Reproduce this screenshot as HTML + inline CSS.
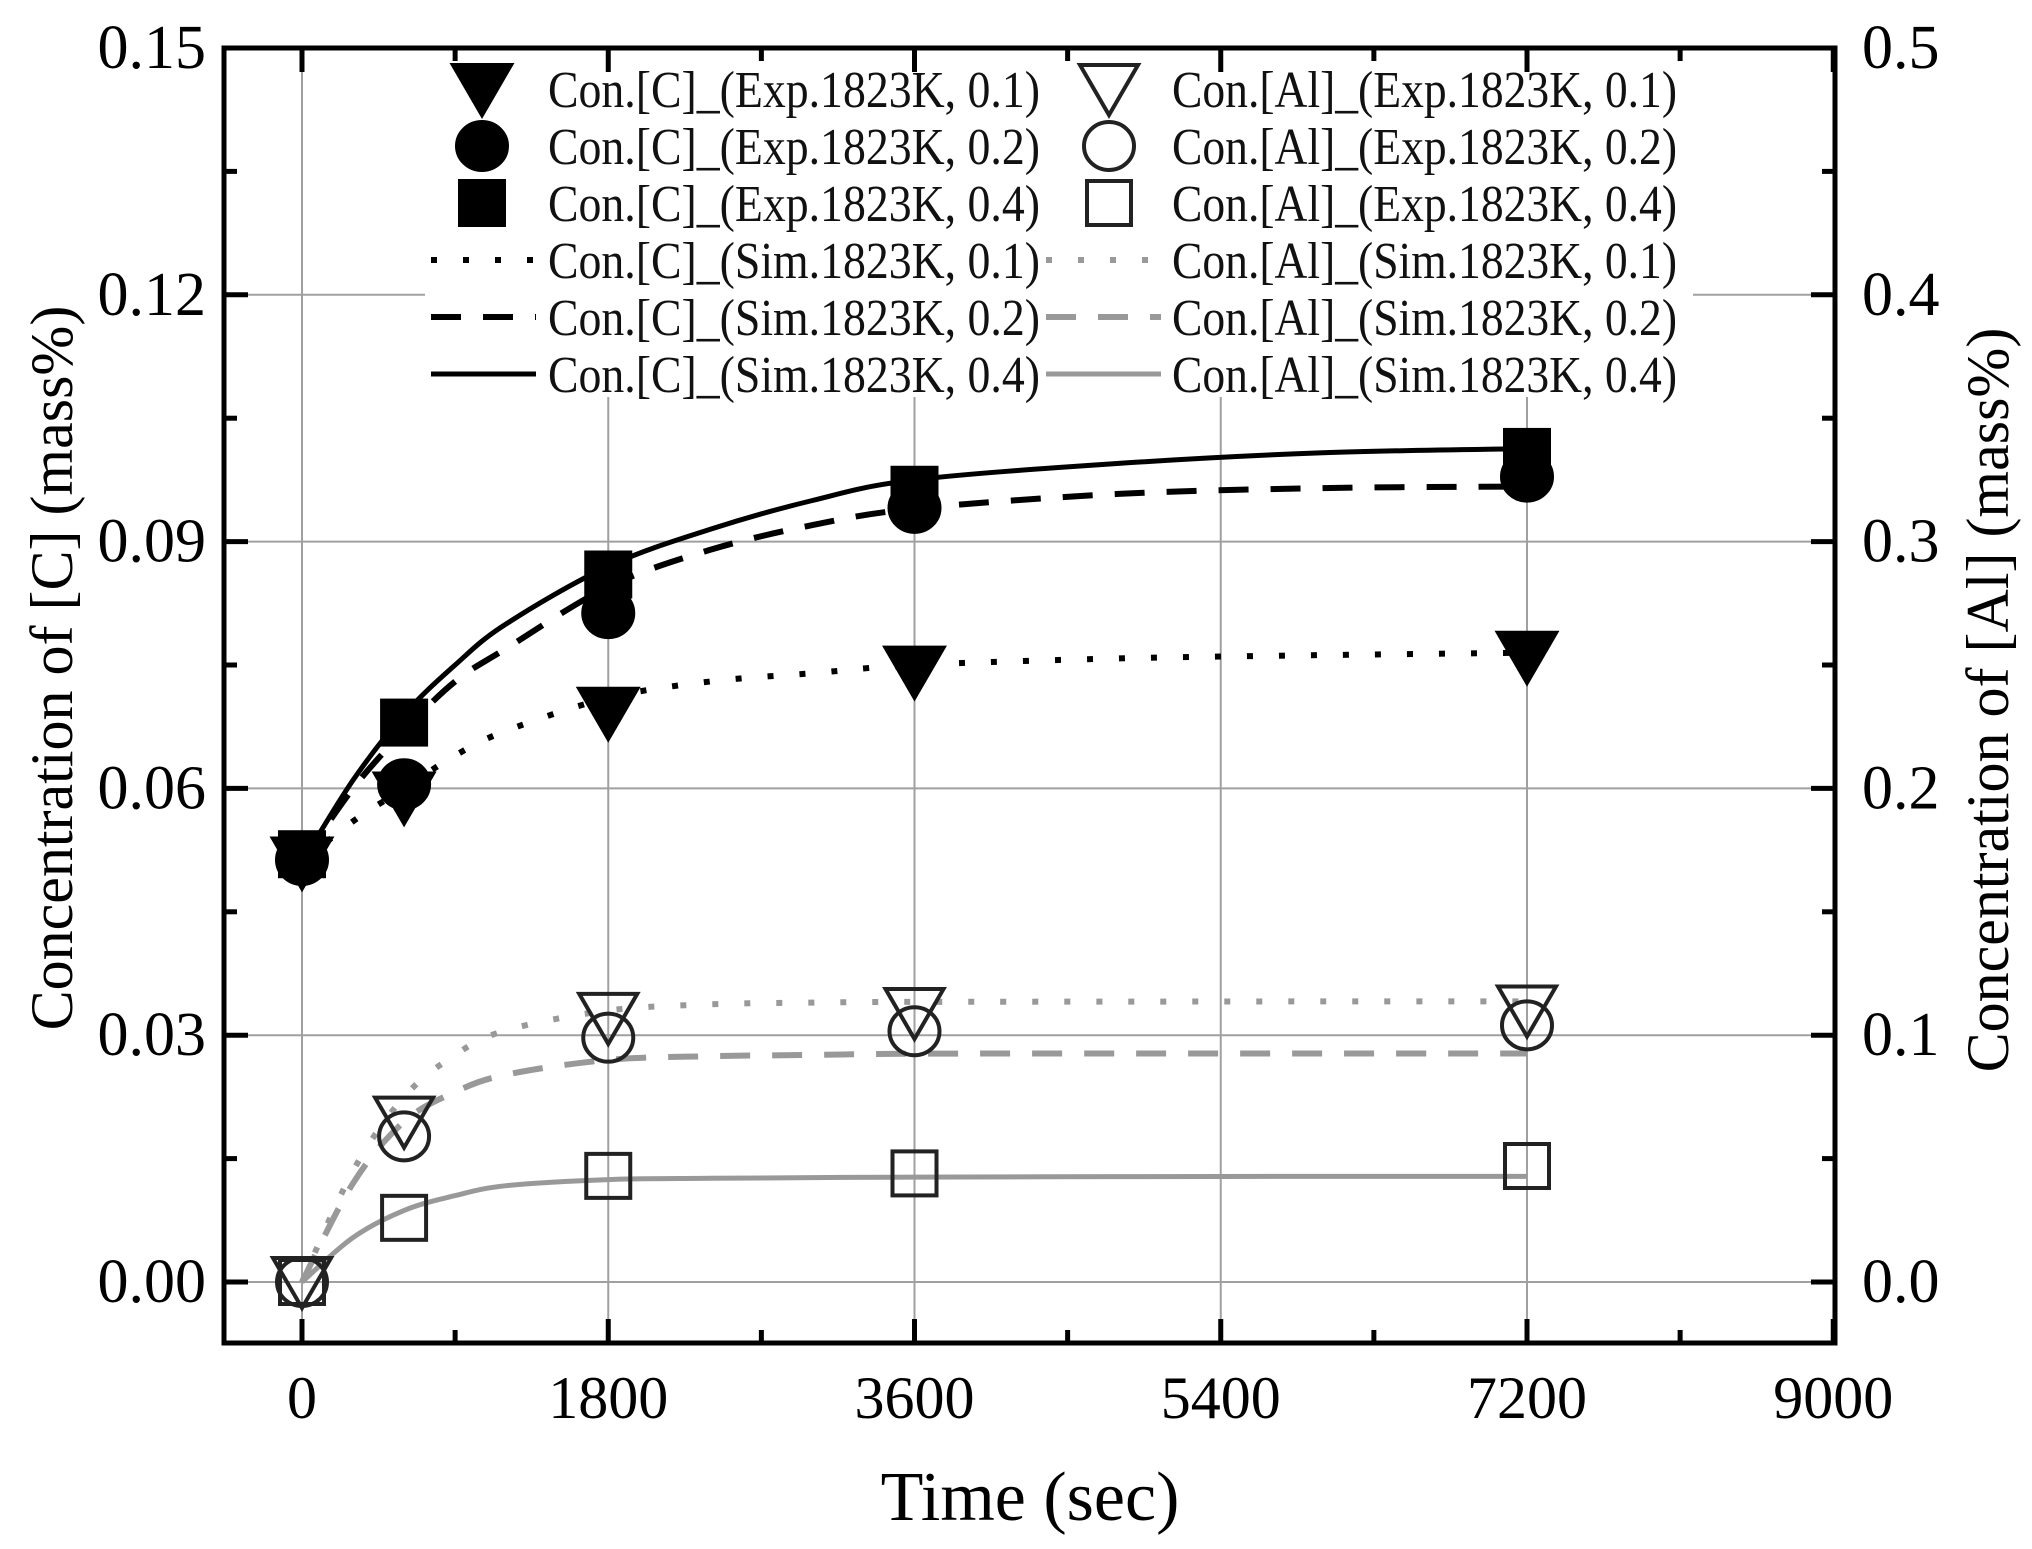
<!DOCTYPE html>
<html><head><meta charset="utf-8"><style>
html,body{margin:0;padding:0;background:#fff;}
svg{display:block;font-family:"Liberation Serif",serif;}
</style></head><body>
<svg id="chart" width="2032" height="1549" viewBox="0 0 2032 1549" xmlns="http://www.w3.org/2000/svg">
<g id="grid"></g>
<g id="legendbg"></g>
<g id="series"></g>
<g id="axes"></g>
<g id="legend"></g>
<text x="1030" y="1520" font-size="70" text-anchor="middle">Time (sec)</text>
<text transform="translate(72,668) rotate(-90)" font-size="60" text-anchor="middle">Concentration of [C] (mass%)</text>
<text transform="translate(2008,700) rotate(-90)" font-size="60" text-anchor="middle">Concentration of [Al] (mass%)</text>
</svg>
<script>
const xTicks=[0,1800,3600,5400,7200,9000];
const yLeftTicks=[0,0.03,0.06,0.09,0.12,0.15];
const yLeftLabels=["0.00","0.03","0.06","0.09","0.12","0.15"];
const yRightLabels=["0.0","0.1","0.2","0.3","0.4","0.5"];
const expTimes=[0,600,1800,3600,7200];
const cExp01=[0.051,0.0589,0.0692,0.0742,0.0760];
const cExp02=[0.0513,0.0605,0.0813,0.0941,0.0979];
const cExp04=[0.052,0.068,0.086,0.0963,0.1009];
const alExp01=[0.0,0.065,0.107,0.109,0.110];
const alExp02=[0.0,0.059,0.099,0.1016,0.104];
const alExp04=[0.0,0.026,0.043,0.044,0.047];
const simTimes=[0,300,600,900,1200,1800,2400,3000,3600,4800,6000,7200];
const cSim01=[0.051,0.056,0.060,0.064,0.067,0.071,0.073,0.074,0.075,0.0758,0.0762,0.0765];
const cSim02=[0.051,0.060,0.067,0.073,0.077,0.0845,0.089,0.092,0.094,0.0958,0.0965,0.0967];
const cSim04=[0.051,0.061,0.069,0.075,0.080,0.087,0.0915,0.095,0.0975,0.0995,0.1008,0.1013];
const alSim01=[0.0,0.045,0.075,0.092,0.102,0.110,0.1125,0.1132,0.1135,0.1136,0.1137,0.1137];
const alSim02=[0.0,0.040,0.065,0.077,0.084,0.090,0.0915,0.092,0.0925,0.0926,0.0926,0.0926];
const alSim04=[0.0,0.018,0.029,0.035,0.039,0.0415,0.042,0.0423,0.0425,0.0427,0.0428,0.0428];

const NS="http://www.w3.org/2000/svg";
const L=224,R=1835,T=48,B=1343;
function xs(t){return 302+t*(1527-302)/7200;}
function yl(v){return 1282-v*(1282-48)/0.15;}
function yr(v){return yl(v*0.3);}
function mk(tag,attrs,parent){const e=document.createElementNS(NS,tag);for(const k in attrs)e.setAttribute(k,attrs[k]);parent.appendChild(e);return e;}
const grid=document.getElementById('grid'),axes=document.getElementById('axes'),series=document.getElementById('series'),legend=document.getElementById('legend'),lbg=document.getElementById('legendbg');

xTicks.slice(0,5).forEach(t=>{const g=mk('line',{x1:xs(t),x2:xs(t),y1:T,y2:B,stroke:'#a0a0a0','stroke-width':2},grid);

});
yLeftTicks.slice(0,5).forEach(v=>{const g=mk('line',{x1:L,x2:R,y1:yl(v),y2:yl(v),stroke:'#a0a0a0','stroke-width':2},grid);

});
{const r=mk('rect',{x:425,y:52,width:1268,height:345,fill:'#fff'},lbg);

}

function path(ts,vs,yf,stroke,dash,w,name){
const P=ts.map((t,i)=>[xs(t),yf(vs[i])]);
let d='M'+P[0][0].toFixed(1)+','+P[0][1].toFixed(1);
for(let i=0;i<P.length-1;i++){const p0=P[Math.max(i-1,0)],p1=P[i],p2=P[i+1],p3=P[Math.min(i+2,P.length-1)];
const c1=[p1[0]+(p2[0]-p0[0])/6,p1[1]+(p2[1]-p0[1])/6],c2=[p2[0]-(p3[0]-p1[0])/6,p2[1]-(p3[1]-p1[1])/6];
d+='C'+c1[0].toFixed(1)+','+c1[1].toFixed(1)+' '+c2[0].toFixed(1)+','+c2[1].toFixed(1)+' '+p2[0].toFixed(1)+','+p2[1].toFixed(1);}
const p=mk('path',{d:d,fill:'none',stroke:stroke,'stroke-width':w,'stroke-dasharray':dash,'stroke-linecap':'butt','stroke-linejoin':'round'},series);

}
path(simTimes,cSim01,yl,'#000','6 26',6,'c-sim-0.1-line');
path(simTimes,cSim02,yl,'#000','30 22',6,'c-sim-0.2-line');
path(simTimes,cSim04,yl,'#000','',5,'c-sim-0.4-line');
path(simTimes,alSim01,yr,'#999','6 26',6,'al-sim-0.1-line');
path(simTimes,alSim02,yr,'#999','30 22',6,'al-sim-0.2-line');
path(simTimes,alSim04,yr,'#999','',5,'al-sim-0.4-line');

function marker(type,cx,cy,filled,parent){let e;
const f=filled?'#000':'none',s=filled?'#000':'#222';
if(type==='tri'){e=mk('polygon',{points:`${cx-29},${cy-24} ${cx+29},${cy-24} ${cx},${cy+26}`,fill:f,stroke:s,'stroke-width':4},parent);}
else if(type==='circ'){e=mk('ellipse',{cx:cx,cy:cy,rx:25,ry:24,fill:f,stroke:s,'stroke-width':4},parent);}
else{e=mk('rect',{x:cx-22,y:cy-22,width:44,height:44,fill:f,stroke:s,'stroke-width':4},parent);}
return e;}
function pts(vs,yf,type,filled,name){expTimes.forEach((t,i)=>{const e=marker(type,xs(t),yf(vs[i]),filled,series);

});}
pts(alExp01,yr,'tri',false,'al-exp-0.1-point');
pts(alExp02,yr,'circ',false,'al-exp-0.2-point');
pts(alExp04,yr,'sq',false,'al-exp-0.4-point');
pts(cExp01,yl,'tri',true,'c-exp-0.1-point');
pts(cExp02,yl,'circ',true,'c-exp-0.2-point');
pts(cExp04,yl,'sq',true,'c-exp-0.4-point');

{const r=mk('rect',{x:L,y:T,width:R-L,height:B-T,fill:'none',stroke:'#000','stroke-width':5},axes);

}
function tick(x1,y1,x2,y2,w){const t=mk('line',{x1:x1,y1:y1,x2:x2,y2:y2,stroke:'#000','stroke-width':w||5},axes);

}
xTicks.forEach(t=>{const x=xs(t);tick(x,B,x,B-24);tick(x,T,x,T+24);
const lb=mk('text',{x:x,y:1418,'font-size':60,'text-anchor':'middle'},axes);lb.textContent=String(t);


if(t<9000){const m=xs(t+900);tick(m,B,m,B-13);tick(m,T,m,T+13);}});
yLeftTicks.forEach((v,i)=>{const y=yl(v);tick(L,y,L+24,y);tick(R,y,R-24,y);
const a=mk('text',{x:206,y:y+20,'font-size':62,'text-anchor':'end'},axes);a.textContent=yLeftLabels[i];


const b=mk('text',{x:1862,y:y+20,'font-size':62,'text-anchor':'start'},axes);b.textContent=yRightLabels[i];


if(i<5){const m=yl(v+0.015);tick(L,m,L+13,m);tick(R,m,R-13,m);}});

const legC=['Con.[C]_(Exp.1823K, 0.1)','Con.[C]_(Exp.1823K, 0.2)','Con.[C]_(Exp.1823K, 0.4)','Con.[C]_(Sim.1823K, 0.1)','Con.[C]_(Sim.1823K, 0.2)','Con.[C]_(Sim.1823K, 0.4)'];
const legA=['Con.[Al]_(Exp.1823K, 0.1)','Con.[Al]_(Exp.1823K, 0.2)','Con.[Al]_(Exp.1823K, 0.4)','Con.[Al]_(Sim.1823K, 0.1)','Con.[Al]_(Sim.1823K, 0.2)','Con.[Al]_(Sim.1823K, 0.4)'];
const types=['tri','circ','sq'];const dashes=['6 26','30 22',''];const widths=[6,6,5];
for(let i=0;i<6;i++){const y=89+i*57;
[[legC,482,431,536,548,'#000',true,492],[legA,1109,1046,1161,1172,'#999',false,505]].forEach(c=>{
let e;
if(i<3){e=marker(types[i],c[1],y,c[6],legend);}
else{e=mk('line',{x1:c[2],x2:c[3],y1:y,y2:y,stroke:c[5],'stroke-width':widths[i-3],'stroke-dasharray':dashes[i-3]},legend);}


const tx=mk('text',{x:c[4],y:y+18,'font-size':52,fill:'#111',textLength:c[7],lengthAdjust:'spacingAndGlyphs'},legend);tx.textContent=c[0][i];

});}
</script>
</body></html>
